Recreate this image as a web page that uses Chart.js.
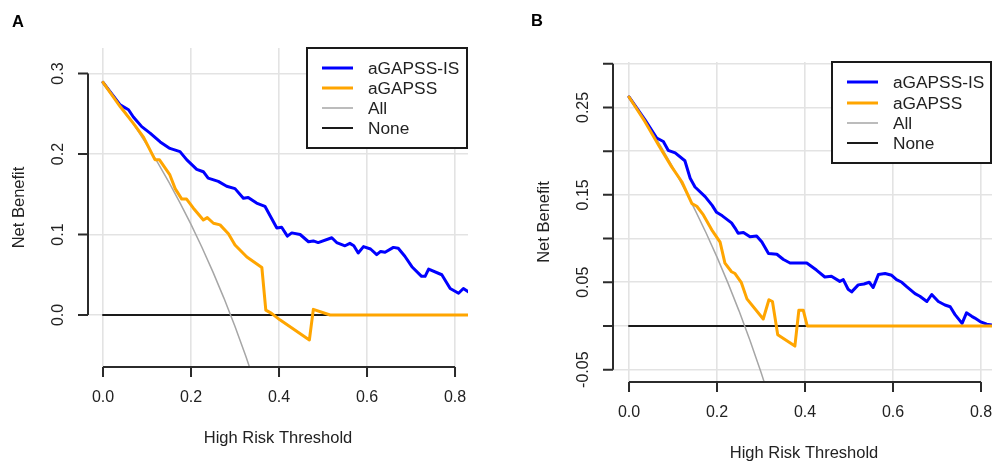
<!DOCTYPE html>
<html>
<head>
<meta charset="utf-8">
<script src="https://cdn.jsdelivr.net/npm/chart.js@4.4.1/dist/chart.umd.min.js"></script>
<style>
  html, body { margin: 0; padding: 0; background: #fff; }
  #wrap { position: relative; width: 992px; height: 462px; overflow: hidden; }
  canvas { position: absolute; top: 0; }
  #cA { left: 0; }
  #cB { left: 496px; }
</style>
</head>
<body>
<div id="wrap">
  <canvas id="cA" width="496" height="462"></canvas>
  <canvas id="cB" width="496" height="462"></canvas>
</div>
<script>
// ---- panel A data (threshold, net benefit) ----
const xBlueA = [0, 0.039, 0.058, 0.069, 0.088, 0.107, 0.130, 0.152, 0.175, 0.190, 0.213, 0.228, 0.239, 0.262, 0.281, 0.300, 0.319, 0.330, 0.349, 0.368, 0.395, 0.406, 0.419, 0.429, 0.448, 0.467, 0.478, 0.489, 0.520, 0.531, 0.550, 0.561, 0.570, 0.580, 0.592, 0.608, 0.622, 0.631, 0.641, 0.660, 0.671, 0.686, 0.702, 0.724, 0.732, 0.740, 0.770, 0.789, 0.808, 0.819, 0.830];
const yBlueA = [0.289, 0.261, 0.255, 0.246, 0.234, 0.226, 0.215, 0.207, 0.203, 0.193, 0.181, 0.178, 0.170, 0.166, 0.160, 0.157, 0.145, 0.146, 0.139, 0.135, 0.108, 0.109, 0.098, 0.102, 0.100, 0.091, 0.092, 0.090, 0.096, 0.090, 0.086, 0.089, 0.086, 0.077, 0.085, 0.082, 0.075, 0.079, 0.078, 0.084, 0.083, 0.073, 0.060, 0.048, 0.048, 0.057, 0.050, 0.033, 0.027, 0.033, 0.029];
const xOrangeA = [0, 0.039, 0.069, 0.092, 0.118, 0.128, 0.152, 0.164, 0.179, 0.190, 0.205, 0.228, 0.237, 0.251, 0.266, 0.285, 0.300, 0.327, 0.361, 0.370, 0.383, 0.402, 0.469, 0.478, 0.516, 0.830];
const yOrangeA = [0.289, 0.259, 0.238, 0.221, 0.193, 0.193, 0.174, 0.157, 0.144, 0.144, 0.133, 0.118, 0.121, 0.114, 0.112, 0.101, 0.087, 0.072, 0.059, 0.006, 0.002, -0.006, -0.031, 0.007, 0, 0];
const xAllA = [0, 0.025, 0.05, 0.075, 0.1, 0.125, 0.15, 0.175, 0.2, 0.225, 0.25, 0.275, 0.3, 0.325, 0.35];
const yAllA = [0.290, 0.2718, 0.2526, 0.2324, 0.2111, 0.1886, 0.1647, 0.1394, 0.1125, 0.0839, 0.0533, 0.0207, -0.0143, -0.0519, -0.0923];
const xNoneA = [0, 0.83];
const yNoneA = [0, 0];
const xTicksA = [0, 0.2, 0.4, 0.6, 0.8];
const xLabelsA = ['0.0', '0.2', '0.4', '0.6', '0.8'];
const yTicksA = [0, 0.1, 0.2, 0.3];
const yLabelsA = ['0.0', '0.1', '0.2', '0.3'];

// ---- panel B data ----
const xBlueB = [0, 0.036, 0.063, 0.078, 0.089, 0.105, 0.127, 0.139, 0.150, 0.173, 0.189, 0.199, 0.212, 0.233, 0.241, 0.248, 0.260, 0.275, 0.290, 0.302, 0.317, 0.336, 0.351, 0.366, 0.404, 0.426, 0.445, 0.460, 0.479, 0.487, 0.498, 0.506, 0.521, 0.534, 0.546, 0.555, 0.567, 0.582, 0.597, 0.608, 0.620, 0.631, 0.650, 0.661, 0.677, 0.688, 0.703, 0.718, 0.730, 0.741, 0.757, 0.767, 0.779, 0.786, 0.798, 0.813, 0.825];
const yBlueB = [0.262, 0.236, 0.215, 0.211, 0.201, 0.198, 0.189, 0.169, 0.159, 0.148, 0.138, 0.130, 0.126, 0.118, 0.112, 0.106, 0.107, 0.102, 0.103, 0.096, 0.083, 0.082, 0.076, 0.072, 0.072, 0.064, 0.056, 0.057, 0.051, 0.053, 0.042, 0.039, 0.047, 0.048, 0.050, 0.044, 0.059, 0.060, 0.058, 0.053, 0.050, 0.045, 0.037, 0.034, 0.028, 0.036, 0.028, 0.024, 0.022, 0.013, 0.003, 0.015, 0.011, 0.009, 0.005, 0.002, 0.001];
const xOrangeB = [0, 0.036, 0.067, 0.097, 0.120, 0.143, 0.154, 0.169, 0.188, 0.207, 0.218, 0.233, 0.241, 0.255, 0.268, 0.305, 0.318, 0.326, 0.338, 0.377, 0.386, 0.396, 0.405, 0.825];
const yOrangeB = [0.262, 0.234, 0.207, 0.182, 0.165, 0.140, 0.137, 0.127, 0.110, 0.096, 0.072, 0.062, 0.060, 0.050, 0.031, 0.008, 0.030, 0.028, -0.010, -0.023, 0.018, 0.018, 0, 0];
const xAllB = [0, 0.025, 0.05, 0.075, 0.1, 0.125, 0.15, 0.175, 0.2, 0.225, 0.25, 0.275, 0.3, 0.325];
const yAllB = [0.263, 0.2441, 0.2242, 0.2032, 0.1811, 0.1577, 0.1329, 0.1067, 0.0788, 0.0490, 0.0173, -0.0166, -0.0529, -0.0919];
const xNoneB = [0, 0.825];
const yNoneB = [0, 0];
const xTicksB = [0, 0.2, 0.4, 0.6, 0.8];
const xLabelsB = ['0.0', '0.2', '0.4', '0.6', '0.8'];
const yTicksB = [-0.05, 0, 0.05, 0.10, 0.15, 0.20, 0.25, 0.30];
const yLabelsB = ['-0.05', '', '0.05', '', '0.15', '', '0.25', ''];

const seriesNames = ['aGAPSS-IS', 'aGAPSS', 'All', 'None'];
const seriesColors = ['#0000FF', '#FFA500', '#A6A6A6', '#1a1a1a'];
const seriesWidths = [3, 3, 1.5, 2];

const FONT = '"Liberation Sans", Arial, Helvetica, sans-serif';

function pts(xs, ys) {
    return xs.map((x, i) => ({ x: x, y: ys[i] }));
}

// R-style axes, titles, panel letter and boxed legend
function rStyle(p) {
    return {
        id: 'rStyle',
        afterDatasetsDraw(chart) {
            const ctx = chart.ctx, xs = chart.scales.x, ys = chart.scales.y, a = chart.chartArea;
            ctx.save();
            ctx.strokeStyle = '#2b2b2b';
            ctx.lineWidth = 2;
            ctx.lineCap = 'butt';

            // y axis line + ticks
            const yTop = ys.getPixelForValue(p.yTicks[p.yTicks.length - 1]);
            const yBot = ys.getPixelForValue(p.yTicks[0]);
            ctx.beginPath();
            ctx.moveTo(a.left, yTop); ctx.lineTo(a.left, yBot);
            p.yTicks.forEach(v => {
                const py = ys.getPixelForValue(v);
                ctx.moveTo(a.left - 10, py); ctx.lineTo(a.left, py);
            });
            // x axis line + ticks
            const xL = xs.getPixelForValue(p.xTicks[0]);
            const xR = xs.getPixelForValue(p.xTicks[p.xTicks.length - 1]);
            ctx.moveTo(xL, a.bottom); ctx.lineTo(xR, a.bottom);
            p.xTicks.forEach(v => {
                const px = xs.getPixelForValue(v);
                ctx.moveTo(px, a.bottom); ctx.lineTo(px, a.bottom + 10);
            });
            ctx.stroke();

            ctx.fillStyle = '#222';
            ctx.font = '16px ' + FONT;
            ctx.textAlign = 'center';
            ctx.textBaseline = 'middle';
            p.xTicks.forEach((v, i) => {
                ctx.fillText(p.xLabels[i], xs.getPixelForValue(v), a.bottom + 31);
            });
            p.yTicks.forEach((v, i) => {
                if (!p.yLabels[i]) return;
                ctx.save();
                ctx.translate(a.left - 29, ys.getPixelForValue(v));
                ctx.rotate(-Math.PI / 2);
                ctx.fillText(p.yLabels[i], 0, 0);
                ctx.restore();
            });

            // axis titles
            ctx.font = '16.5px ' + FONT;
            ctx.fillText('High Risk Threshold', p.titleX, a.bottom + 71);
            ctx.save();
            ctx.translate(a.left - 69, (a.top + a.bottom) / 2);
            ctx.rotate(-Math.PI / 2);
            ctx.fillText('Net Benefit', 0, 0);
            ctx.restore();

            // panel letter
            ctx.fillStyle = '#000';
            ctx.font = 'bold 16.5px ' + FONT;
            ctx.fillText(p.letter, p.letterX, p.letterY);

            // legend
            const L = p.legend;
            ctx.fillStyle = '#fff';
            ctx.fillRect(L.x1, L.y1, L.x2 - L.x1, L.y2 - L.y1);
            ctx.strokeStyle = '#1a1a1a';
            ctx.lineWidth = 2;
            ctx.strokeRect(L.x1, L.y1, L.x2 - L.x1, L.y2 - L.y1);
            ctx.font = '17.3px ' + FONT;
            ctx.textAlign = 'left';
            seriesNames.forEach((name, i) => {
                const ry = L.rows[i];
                ctx.strokeStyle = seriesColors[i];
                ctx.lineWidth = seriesWidths[i];
                ctx.beginPath();
                ctx.moveTo(L.lx1, ry); ctx.lineTo(L.lx2, ry);
                ctx.stroke();
                ctx.fillStyle = '#222';
                ctx.fillText(name, L.tx, ry + 1);
            });
            ctx.restore();
        }
    };
}

function makeChart(id, p) {
    const ds = (data, i) => ({
        label: seriesNames[i],
        data: data,
        borderColor: seriesColors[i],
        borderWidth: seriesWidths[i],
        pointRadius: 0,
        tension: 0,
        fill: false,
        borderJoinStyle: 'round',
        borderCapStyle: 'round'
    });
    return new Chart(document.getElementById(id), {
        type: 'line',
        data: {
            // first dataset is painted on top
            datasets: [
                ds(p.orange, 1),
                ds(p.blue, 0),
                ds(p.all, 2),
                ds(p.none, 3)
            ]
        },
        options: {
            responsive: false,
            animation: false,
            layout: { padding: p.pad },
            plugins: { legend: { display: false }, tooltip: { enabled: false } },
            scales: {
                x: {
                    type: 'linear', min: p.xMin, max: p.xMax,
                    afterBuildTicks: s => { s.ticks = p.xTicks.map(v => ({ value: v })); },
                    afterFit: s => { s.height = 0; },
                    ticks: { display: false },
                    grid: { color: '#e3e3e3', lineWidth: 1.6, drawTicks: false },
                    border: { display: false }
                },
                y: {
                    type: 'linear', min: p.yMin, max: p.yMax,
                    afterBuildTicks: s => { s.ticks = p.yTicks.map(v => ({ value: v })); },
                    afterFit: s => { s.width = 0; },
                    ticks: { display: false },
                    grid: { color: '#e3e3e3', lineWidth: 1.6, drawTicks: false },
                    border: { display: false }
                }
            }
        },
        plugins: [rStyle(p)]
    });
}

makeChart('cA', {
    blue: pts(xBlueA, yBlueA),
    orange: pts(xOrangeA, yOrangeA),
    all: pts(xAllA, yAllA),
    none: pts(xNoneA, yNoneA),
    xTicks: xTicksA, xLabels: xLabelsA, yTicks: yTicksA, yLabels: yLabelsA,
    xMin: -0.0341, xMax: 0.8295, yMin: -0.0646, yMax: 0.3317,
    pad: { left: 88, top: 48, right: 28, bottom: 95 },
    titleX: 278, letter: 'A', letterX: 18, letterY: 22,
    legend: { x1: 307, y1: 48, x2: 467, y2: 148, lx1: 322, lx2: 353, tx: 368, rows: [68, 88, 108, 128] }
});

makeChart('cB', {
    blue: pts(xBlueB, yBlueB),
    orange: pts(xOrangeB, yOrangeB),
    all: pts(xAllB, yAllB),
    none: pts(xNoneB, yNoneB),
    xTicks: xTicksB, xLabels: xLabelsB, yTicks: yTicksB, yLabels: yLabelsB,
    xMin: -0.0364, xMax: 0.825, yMin: -0.0641, yMax: 0.302,
    pad: { left: 117, top: 62, right: 0, bottom: 80 },
    titleX: 308, letter: 'B', letterX: 41, letterY: 21,
    legend: { x1: 336, y1: 62, x2: 495, y2: 163, lx1: 351, lx2: 382, tx: 397, rows: [82, 103, 123, 143] }
});
</script>
</body>
</html>
